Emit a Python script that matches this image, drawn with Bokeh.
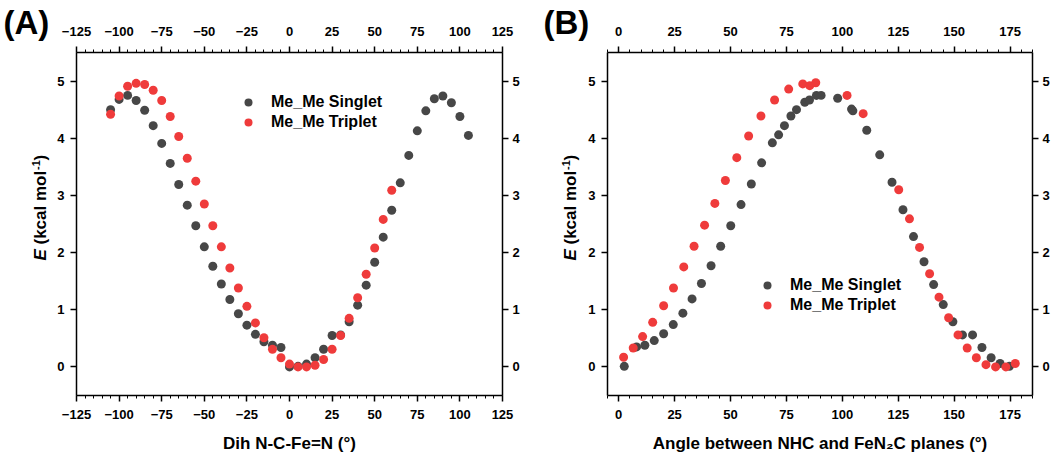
from bokeh.plotting import figure
from bokeh.models import (LinearAxis, SingleIntervalTicker, Legend, LegendItem,
                          Label, Range1d)
from bokeh.layouts import row
from bokeh.embed import file_html
from bokeh.resources import INLINE

# ---------------- data ----------------
# Panel A: dihedral N-C-Fe=N (deg)
dih_singlet = [-105, -100, -95, -90, -85, -80, -75, -70, -65, -60, -55, -50, -45,
               -40, -35, -30, -25, -20, -15, -10, -5, 0, 5, 10, 15, 20, 25, 30,
               35, 40, 45, 50, 55, 60, 65, 70, 75, 80, 85, 90, 95, 100, 105]
e_singlet_a = [4.50, 4.68, 4.75, 4.66, 4.49, 4.22, 3.91, 3.56, 3.19, 2.83, 2.47,
               2.10, 1.76, 1.45, 1.18, 0.93, 0.73, 0.57, 0.44, 0.38, 0.34, 0.00,
               0.01, 0.05, 0.16, 0.31, 0.55, 0.56, 0.79, 1.08, 1.43, 1.83, 2.27,
               2.74, 3.22, 3.70, 4.13, 4.48, 4.69, 4.74, 4.62, 4.38, 4.05]
dih_triplet = [-105, -100, -95, -90, -85, -80, -75, -70, -65, -60, -55, -50, -45,
               -40, -35, -30, -25, -20, -15, -10, -5, 0, 5, 10, 15, 20, 25, 30,
               35, 40, 45, 50, 55, 60]
e_triplet_a = [4.42, 4.74, 4.91, 4.96, 4.94, 4.84, 4.66, 4.38, 4.03, 3.65, 3.25,
               2.85, 2.47, 2.10, 1.73, 1.38, 1.06, 0.77, 0.51, 0.31, 0.16, 0.05,
               0.00, 0.00, 0.03, 0.13, 0.31, 0.55, 0.85, 1.21, 1.62, 2.08, 2.58,
               3.09]

# Panel B: angle between NHC and FeN2C planes (deg)
ang_singlet = [2.5, 8.0, 11.7, 15.9, 20.1, 24.4, 28.7, 32.8, 37.0, 41.3, 45.6, 50.1,
               54.7, 59.3, 63.9, 68.7, 71.5, 74.1, 77.0, 79.5, 83.2, 85.3, 88.4,
               90.5, 97.9, 104.1, 104.7, 110.9, 116.7, 122.2, 127.1, 131.8, 136.5,
               140.8, 145.1, 149.4, 153.7, 158.2, 162.4, 166.5, 170.5, 174.7]
e_singlet_b = [0.01, 0.35, 0.38, 0.46, 0.58, 0.74, 0.94, 1.19, 1.46, 1.77, 2.11, 2.47,
               2.84, 3.20, 3.57, 3.92, 4.06, 4.22, 4.39, 4.50, 4.63, 4.67, 4.75,
               4.75, 4.70, 4.51, 4.48, 4.14, 3.71, 3.23, 2.75, 2.28, 1.84,
               1.44, 1.09, 0.79, 0.56, 0.56, 0.34, 0.16, 0.06, 0.01]
ang_triplet = [2.2, 6.5, 10.7, 15.2, 20.1, 24.5, 29.1, 33.7, 38.4, 43.0, 47.7, 52.8,
               58.1, 63.6, 69.7, 76.0, 82.3, 85.4, 88.1, 102.1, 109.3, 125.2, 130.0,
               134.5, 139.0, 143.2, 147.5, 151.7, 155.8, 159.9, 164.2, 168.5, 173.1,
               177.3]
e_triplet_b = [0.17, 0.33, 0.53, 0.78, 1.07, 1.38, 1.75, 2.11, 2.48, 2.86, 3.26, 3.66,
               4.04, 4.39, 4.67, 4.86, 4.95, 4.92, 4.97, 4.75, 4.43, 3.10, 2.59,
               2.09, 1.63, 1.22, 0.86, 0.56, 0.33, 0.16, 0.04, 0.00, 0.00,
               0.06]

y_limits = (-0.5, 5.5)
xa_limits = (-125, 125)
xb_limits = (-5, 185)
y_ticks_step = 1
x_ticks_step = 25
label_singlet = "Me_Me Singlet"
label_triplet = "Me_Me Triplet"
xlabel_a = "Dih N-C-Fe=N (°)"
xlabel_b = "Angle between NHC and FeN₂C planes (°)"

DARK = "#474747"
RED = "#ef3b3b"
FONT = "Liberation Sans"
H = 455
BOX_TOP, BOX_BOTTOM = 52, 395   # pixel rows of the axes box


def style_axis(ax, xaxis, bounds):
    ax.bounds = bounds
    ax.axis_line_color = "black"
    ax.axis_line_width = 1.5
    ax.major_tick_line_color = "black"
    ax.major_tick_line_width = 1.5
    ax.major_tick_out = 6
    ax.major_tick_in = 0
    ax.minor_tick_line_color = "black"
    ax.minor_tick_line_width = 1
    ax.minor_tick_out = 3
    ax.minor_tick_in = 0
    ax.major_label_text_font = FONT
    ax.major_label_text_font_style = "bold"
    ax.major_label_text_font_size = "13px"
    ax.major_label_text_color = "black"
    ax.major_label_standoff = 6
    ax.axis_label_text_font = FONT
    ax.axis_label_text_font_style = "bold"
    ax.axis_label_text_font_size = "17px"
    ax.axis_label_text_color = "black"
    if xaxis:
        ax.ticker = SingleIntervalTicker(interval=x_ticks_step, num_minor_ticks=5)
    else:
        ax.ticker = SingleIntervalTicker(interval=y_ticks_step, num_minor_ticks=0)
        ax.minor_tick_line_color = None


def screen_label(p, x, y_from_top, text, size, style="bold", angle=0.0):
    p.add_layout(Label(x=x, y=H - y_from_top, x_units="screen", y_units="screen",
                       text=text, text_font=FONT, text_font_style=style,
                       text_font_size=size, text_align="left",
                       text_baseline="middle", text_color="black", angle=angle))


def make_panel(xs_s, ys_s, xs_t, ys_t, xlim, width, box_left, box_right, xlabel,
               tag, tag_x, legend_loc):
    # the frame covers the whole canvas; the axes are pinned to the box edges
    ppx = (box_right - box_left) / (xlim[1] - xlim[0])
    ppy = (BOX_BOTTOM - BOX_TOP) / (y_limits[1] - y_limits[0])
    xr = Range1d(xlim[0] - box_left / ppx, xlim[1] + (width - box_right) / ppx)
    yr = Range1d(y_limits[0] - (H - BOX_BOTTOM) / ppy, y_limits[1] + BOX_TOP / ppy)
    p = figure(width=width, height=H, x_range=xr, y_range=yr,
               output_backend="svg", toolbar_location=None, min_border=0)
    p.grid.visible = False
    p.outline_line_color = None
    p.background_fill_color = "white"
    p.border_fill_color = "white"

    bottom = p.xaxis[0]
    style_axis(bottom, True, xlim)
    bottom.fixed_location = y_limits[0]
    bottom.axis_label = xlabel
    bottom.axis_label_standoff = 12
    bottom.major_label_standoff = 8

    left = p.yaxis[0]
    style_axis(left, False, y_limits)
    left.fixed_location = xlim[0]

    top = LinearAxis(fixed_location=y_limits[1])
    style_axis(top, True, xlim)
    top.major_label_standoff = 11
    p.add_layout(top, "above")

    right = LinearAxis(fixed_location=xlim[1])
    style_axis(right, False, y_limits)
    right.major_label_standoff = 4
    p.add_layout(right, "right")

    rs = p.scatter(xs_s, ys_s, size=9, color=DARK, line_color=None)
    rt = p.scatter(xs_t, ys_t, size=9, color=RED, line_color=None)

    leg = Legend(items=[LegendItem(label=label_singlet, renderers=[rs]),
                        LegendItem(label=label_triplet, renderers=[rt])],
                 location=legend_loc, padding=0, margin=0, spacing=0,
                 glyph_width=20, glyph_height=20, label_height=20,
                 label_standoff=13, border_line_color=None,
                 background_fill_alpha=0,
                 label_text_font=FONT, label_text_font_style="bold",
                 label_text_font_size="16px", label_text_color="black")
    p.add_layout(leg)

    # panel tag
    screen_label(p, tag_x, 22, tag, "33px")
    # y axis title: E (kcal mol-1), italic E and superscript -1
    ylx = 40
    screen_label(p, ylx, 260, "E", "17px", style="bold italic", angle=1.5708)
    screen_label(p, ylx, 244, "(kcal mol", "17px", angle=1.5708)
    screen_label(p, ylx - 4, 169.5, "-1", "11px", angle=1.5708)
    screen_label(p, ylx, 160, ")", "17px", angle=1.5708)
    return p


pA = make_panel(dih_singlet, e_singlet_a, dih_triplet, e_triplet_a, xa_limits,
                530, 76, 502, xlabel_a, "(A)", 3, (238, 323))
pB = make_panel(ang_singlet, e_singlet_b, ang_triplet, e_triplet_b, xb_limits,
                522, 77, 502, xlabel_b, "(B)", 13, (227, 140))

layout = row(pA, pB)
open("out.html", "w").write(file_html(layout, INLINE))
